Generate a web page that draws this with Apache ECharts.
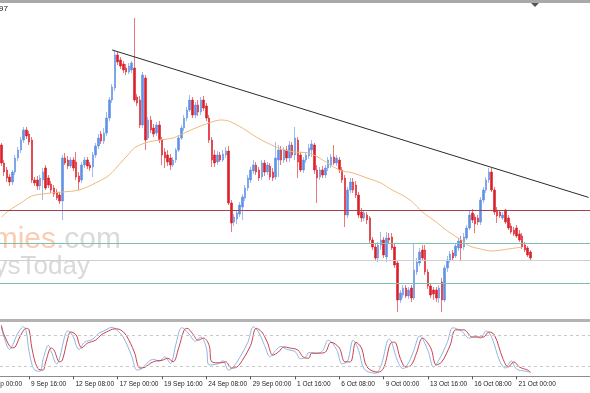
<!DOCTYPE html>
<html><head><meta charset="utf-8">
<script src="https://cdn.jsdelivr.net/npm/echarts@6/dist/echarts.min.js"></script>
<style>html,body{margin:0;padding:0;background:#fff;overflow:hidden}#c{width:590px;height:393px}</style>
</head><body><div id="c"></div>
<script>
// H4 candles (price in points)
const opens = [
175,157,150,143,138,148,162,170,180,190, 186,180,140,140,134,140,152,142,136,132,
128,125,119,162,160,154,160,158,144,140, 155,160,155,153,165,174,186,179,187,202,
220,232,265,260,256,252,248,250,252,223, 220,195,242,182,200,192,187,195,180,168,
165,162,155,160,170,182,192,202,210,220, 205,215,208,220,214,202,180,165,158,165,
160,165,169,117,98,101,106,113,122,132, 140,149,155,150,143,157,148,154,148,143,
160,170,160,170,162,175,165,180,165,150, 160,164,170,175,150,143,150,145,152,155,
163,157,160,150,142,105,130,138,135,125, 108,102,105,102,80,73,62,75,80,63,
82,83,73,57,20,25,32,24,32,22, 48,57,70,70,48,34,30,30,22,38,
20,52,60,67,64,72,80,73,82,92, 107,103,102,98,120,130,140,148,130,110,
108,102,110,102,94,90,92,86,84,75, 72,68];
const closes = [
157,148,142,138,148,162,170,180,190,184, 178,140,137,134,142,148,132,135,130,126,
122,119,162,157,154,160,152,143,138,155, 160,154,152,165,174,182,179,187,202,220,
233,265,258,254,250,248,254,257,220,217, 195,245,180,200,190,186,195,180,165,162,
158,155,160,170,182,192,202,210,220,205, 215,208,220,212,202,180,160,157,165,160,
166,169,117,97,103,107,115,123,132,142, 150,155,148,142,157,148,155,143,142,162,
170,160,170,162,175,165,182,158,150,160, 165,172,176,150,142,150,145,152,160,163,
157,162,150,140,105,130,138,130,125,105, 102,107,100,80,73,62,75,80,65,82,
80,72,55,20,27,32,24,30,22,50, 58,68,62,48,34,25,26,22,32,20,
52,60,66,62,74,79,72,83,92,105, 100,96,98,120,130,140,148,130,108,104,
104,105,98,92,88,86,84,80,73,70, 65,62];
const lows = [
154,144,138,134,135,145,159,167,177,181, 175,137,134,130,130,120,130,132,127,123,
120,116,100,155,151,152,149,140,130,137, 152,151,149,143,162,171,176,176,184,199,
217,229,255,251,247,245,246,247,218,214, 192,192,170,180,187,183,184,177,155,152,
154,150,153,157,168,180,189,199,208,202, 202,204,205,209,199,177,153,153,155,158,
158,162,115,88,94,96,103,100,119,129, 137,146,145,139,140,144,145,140,139,140,
143,155,157,158,158,162,160,142,148,147, 157,161,163,146,117,140,142,142,149,152,
155,154,147,137,93,102,127,127,122,102, 98,99,96,77,70,59,58,70,62,58,
77,70,52,8,17,22,22,21,18,20, 45,54,59,45,31,22,20,18,17,8,
18,48,57,60,62,69,60,70,80,90, 97,87,95,95,117,127,137,128,105,97,
102,100,96,90,86,84,82,78,71,68, 63,60];
const highs = [
177,160,153,146,150,165,173,183,193,193, 189,183,143,144,145,152,155,145,139,135,
131,128,165,167,164,163,163,168,148,158, 163,163,158,168,177,186,189,192,208,223,
236,270,268,263,259,256,257,259,302,226, 224,248,245,203,204,196,198,199,183,172,
170,166,163,172,185,195,205,213,225,223, 218,220,223,224,217,205,183,170,169,168,
170,173,174,120,106,110,118,126,135,145, 153,160,158,153,160,160,158,157,152,178,
175,174,173,174,179,178,193,183,168,163, 168,176,180,177,155,153,154,155,163,166,
175,165,163,153,145,133,142,142,139,128, 112,110,108,104,83,76,78,88,83,88,
87,87,76,60,30,35,35,33,35,77, 62,72,75,75,51,37,33,33,35,42,
55,64,69,70,77,82,84,87,95,110, 111,106,105,123,133,143,152,152,133,113,
110,108,111,105,97,93,95,90,87,78, 74,70];

// moving average (bar index, value)
const maIdx = [0,3,7,11,18,22,28,34,39,43,45,48,50,53,57,62,66,71,76,79,82,87,92,96,101,106,111,116,122,127,132,137,141,144,148,152,157,161,166,169,173,177,183,188];
const maVal = [103,110,117,124,127,128,130,137,145,157,163,172,175,178,180,182,187,193,198,200,199,192,183,177,171,168,167,160,150,147,142,137,130,126,119,108,98,89,80,74,71,69,71,73];

// horizontal levels and trend line
const levels = [110, 77, 60, 37];
const levelColors = ['#a3424e', '#80c0ae', '#cfcfcf', '#80c0ae'];
const trendStart = [40, 270];
const trendEnd = [212, 122.6];

// stochastic oscillator
const mainIdx = [0,1,3,4,6,8,9,10,12,14,15,17,18,20,21,23,24,26,27,28,30,33,35,37,40,42,44,47,49,51,53,55,57,59,61,63,65,66,68,70,72,74,75,78,80,82,84,86,89,91,93,95,97,99,101,103,106,108,110,111,114,116,118,121,123,125,127,129,131,135,137,140,141,143,145,147,149,151,154,156,158,161,163,166,169,171,173,175,177,180,182,184,186,189,191];
const mainVal = [97,75,52,60,84,96,86,48,12,10,32,60,48,24,35,80,88,76,60,52,66,72,83,88,95,88,76,40,12,16,28,33,29,38,25,62,94,92,80,68,76,55,22,24,30,12,20,36,66,96,84,60,38,50,58,52,48,34,38,46,44,50,70,52,24,30,70,50,14,6,20,72,64,30,15,26,52,78,50,18,32,66,94,88,74,78,74,88,76,28,16,30,14,10,8];
const sigIdx = [0,1,4,5,7,9,10,11,13,15,16,18,19,21,22,24,25,27,28,29,31,34,36,38,41,43,45,48,50,52,54,56,58,60,62,64,66,67,69,71,73,75,76,79,81,83,85,87,90,92,94,96,98,100,102,104,107,109,111,112,115,117,119,122,124,126,128,130,132,136,138,141,142,144,146,148,150,152,155,157,159,162,164,167,170,172,174,176,178,181,183,185,187,190,191];
const sigVal = [99,80,55,57,80,93,90,55,16,12,28,55,51,28,31,74,86,80,64,55,64,70,80,86,92,90,80,47,16,18,26,30,31,35,28,55,90,93,83,70,74,60,28,26,28,16,18,31,60,93,86,66,41,47,57,55,51,37,35,45,45,47,66,55,28,28,66,55,18,8,16,66,66,35,18,22,47,74,55,22,28,60,90,90,76,76,76,86,80,35,18,28,18,12,8];
const stochLevels = [80, 20];

// time categories: H4 bars from Mon 8 Sep 2014, weekdays only
const MONTHS = ['Jan','Feb','Mar','Apr','May','Jun','Jul','Aug','Sep','Oct','Nov','Dec'];
const categories = [];
(function(){
  let t = Date.UTC(2014, 8, 8, 0);
  while (categories.length < 213) {
    const d = new Date(t), wd = d.getUTCDay();
    if (wd !== 0 && wd !== 6) {
      categories.push(d.getUTCDate() + ' ' + MONTHS[d.getUTCMonth()] + ' ' + String(d.getUTCHours()).padStart(2,'0') + ':00');
    }
    t += 4 * 3600 * 1000;
  }
})();
const lastBar = opens.length - 1;
const labelFn = (i) => i >= 10 && i <= lastBar && (i - 10) % 16 === 0;

const candles = opens.map((o, i) => [o, closes[i], lows[i], highs[i]]);
const pairs = (idx, vals) => idx.map((k, j) => [categories[k], vals[j]]);

const chart = echarts.init(document.getElementById('c'));
const levelLines = levels.map((v, k) => ({yAxis: v, lineStyle: {color: levelColors[k], width: 1, type: 'solid'}}));
levelLines.push([
  {coord: [categories[trendStart[0]], trendStart[1]], lineStyle: {color: '#2a2a2a', width: 1, type: 'solid'}},
  {coord: [categories[trendEnd[0]], trendEnd[1]]}
]);

chart.setOption({
  animation: false,
  grid: [
    {left: 0, right: 0, top: 4, height: 314},
    {left: 0, right: 0, top: 324.7, height: 51.6}
  ],
  xAxis: [
    {type: 'category', data: categories, gridIndex: 0, show: false},
    {type: 'category', data: categories, gridIndex: 1,
     axisLine: {show: true, lineStyle: {color: '#8c8c8c'}},
     axisTick: {show: true, alignWithLabel: true, interval: labelFn, length: 3, lineStyle: {color: '#555'}},
     axisLabel: {show: true, interval: labelFn, align: 'left', margin: 4, fontSize: 6.5, color: '#1a1a1a',
                 fontFamily: 'Liberation Sans', padding: [0, 0, 0, 2]},
     splitLine: {show: false}}
  ],
  yAxis: [
    {type: 'value', gridIndex: 0, min: 2, max: 316, show: false, splitLine: {show: false}},
    {type: 'value', gridIndex: 1, min: 0, max: 100, show: false, splitLine: {show: false}}
  ],
  series: [
    {type: 'candlestick', xAxisIndex: 0, yAxisIndex: 0, data: candles, barWidth: 2,
     itemStyle: {color: '#5f91e6', color0: '#dc1f29', borderColor: '#5f91e6', borderColor0: '#dc1f29', borderWidth: 0.6},
     markLine: {silent: true, symbol: ['none', 'none'], label: {show: false}, animation: false, data: levelLines}},
    {type: 'line', xAxisIndex: 0, yAxisIndex: 0, data: pairs(maIdx, maVal), smooth: 0.3, showSymbol: false,
     lineStyle: {color: '#edb97c', width: 1}, z: 3},
    {type: 'line', xAxisIndex: 1, yAxisIndex: 1, data: pairs(mainIdx, mainVal), smooth: 0.35, showSymbol: false,
     lineStyle: {color: '#8fb4e3', width: 1}},
    {type: 'line', xAxisIndex: 1, yAxisIndex: 1, data: pairs(sigIdx, sigVal), smooth: 0.35, showSymbol: false,
     lineStyle: {color: '#c8424c', width: 1},
     markLine: {silent: true, symbol: ['none', 'none'], label: {show: false},
       data: stochLevels.map(v => ({yAxis: v})),
       lineStyle: {color: '#c8c8c8', width: 1, type: [3, 3]}}}
  ],
  graphic: [
    {type: 'text', x: 56, y: 240, z: -1, silent: true,
     style: {text: 'economies', align: 'right', verticalAlign: 'middle', fill: '#f8cdb1', fontSize: 30, fontFamily: 'Liberation Sans'}},
    {type: 'text', x: 56, y: 240, z: -1, silent: true,
     style: {text: '.com', align: 'left', verticalAlign: 'middle', fill: '#dadada', fontSize: 30, fontFamily: 'Liberation Sans'}},
    {type: 'text', x: 90, y: 267, z: -1, silent: true,
     style: {text: 'ysToday', align: 'right', verticalAlign: 'middle', fill: '#d9d9d9', fontSize: 26, fontFamily: 'Liberation Sans'}},
    {type: 'rect', shape: {x: 0, y: 0, width: 590, height: 3}, style: {fill: '#a9a9a9'}},
    {type: 'polygon', shape: {points: [[531, 3], [539, 3], [535, 7]]}, style: {fill: '#555'}},
    {type: 'text', x: -1, y: 9, style: {text: '97', fontSize: 8, fill: '#222', fontFamily: 'Liberation Sans', verticalAlign: 'middle'}},
    {type: 'rect', shape: {x: 0, y: 319, width: 590, height: 3}, style: {fill: '#b3b3b3'}},
    {type: 'text', x: -13, y: 384, style: {text: '5 Sep 00:00', fontSize: 6.5, fill: '#1a1a1a', fontFamily: 'Liberation Sans', verticalAlign: 'middle'}}
  ]
});
</script>
</body></html>
